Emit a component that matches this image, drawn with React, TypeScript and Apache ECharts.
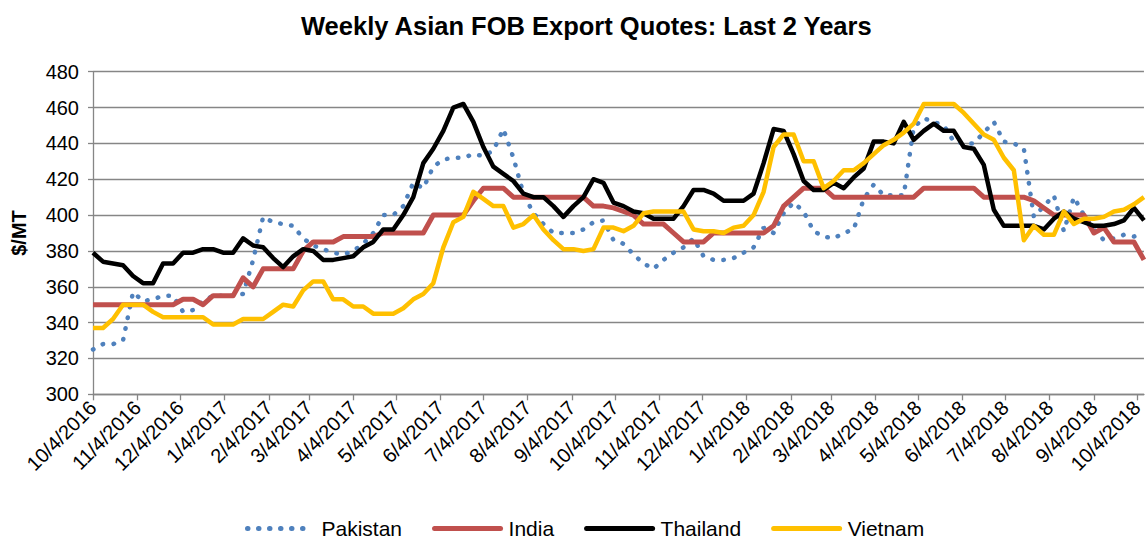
import React, { useEffect, useRef } from "react";
import * as echarts from "echarts";

const startDate = "10/4/2016";
const tickLabels = [
  "10/4/2016", "11/4/2016", "12/4/2016", "1/4/2017", "2/4/2017", "3/4/2017", "4/4/2017",
  "5/4/2017", "6/4/2017", "7/4/2017", "8/4/2017", "9/4/2017", "10/4/2017", "11/4/2017",
  "12/4/2017", "1/4/2018", "2/4/2018", "3/4/2018", "4/4/2018", "5/4/2018", "6/4/2018",
  "7/4/2018", "8/4/2018", "9/4/2018", "10/4/2018",
];
const yTicks = [300, 320, 340, 360, 380, 400, 420, 440, 460, 480];

const pakistan = [
  325, 328, 328, 330, 357, 352, 353, 355, 355, 346, 347, 352, 355, 355, 355, 356,
  375, 399, 396, 395, 394, 387, 383, 381, 379, 378, 380, 384, 390, 400, 400,
  405, 418, 415, 427, 431, 432, 432, 434, 433, 436, 448, 432, 412, 401, 395,
  390, 390, 390, 392, 396, 397, 386, 384, 378, 373, 370, 375, 379, 382, 387,
  377, 375, 375, 376, 379, 382, 393, 390, 401, 407, 402, 391, 388, 387,
  390, 392, 409, 417, 411, 411, 411, 449, 454, 452, 450, 441, 440, 440, 446,
  452, 441, 440, 437, 399, 405, 411, 391, 410, 400, 392, 386, 387, 389, 388, 390,
];
const india = [
  350, 350, 350, 350, 350, 350, 350, 350, 350, 353, 353, 350, 355, 355, 355, 365,
  360, 370, 370, 370, 370, 380, 385, 385, 385, 388, 388, 388, 388, 390, 390,
  390, 390, 390, 400, 400, 400, 400, 408, 415, 415, 415, 410, 410, 410, 410,
  410, 410, 410, 410, 405, 405, 404, 402, 400, 395, 395, 395, 390, 385, 385,
  385, 390, 390, 390, 390, 390, 390, 394, 405, 410, 415, 415, 415, 410,
  410, 410, 410, 410, 410, 410, 410, 410, 415, 415, 415, 415, 415, 415, 410,
  410, 410, 410, 410, 408, 404, 400, 400, 400, 400, 390, 393, 385, 385, 385, 375,
];
const thailand = [
  379, 374, 373, 372, 366, 362, 362, 373, 373, 379, 379, 381, 381, 379, 379, 387,
  383, 382, 376, 371, 377, 381, 380, 375, 375, 376, 377, 382, 385, 392, 392,
  400, 410, 429, 437, 447, 460, 462, 452, 438, 427, 423, 419, 412, 410, 410,
  405, 399, 405, 410, 420, 418, 407, 405, 402, 401, 398, 398, 398, 405, 414,
  414, 412, 408, 408, 408, 412, 429, 448, 447, 434, 419, 414, 414, 418,
  415, 421, 426, 441, 441, 440, 452, 442, 447, 451, 447, 447, 438, 437, 428,
  403, 394, 394, 394, 394, 392, 398, 402, 398, 396, 394, 394, 395, 397, 404, 397,
];
const vietnam = [
  337, 337, 342, 350, 350, 350, 346, 343, 343, 343, 343, 343, 339, 339, 339, 342,
  342, 342, 346, 350, 349, 358, 363, 363, 353, 353, 349, 349, 345, 345, 345,
  348, 353, 356, 362, 382, 396, 399, 413, 409, 405, 405, 393, 395, 400, 392,
  386, 381, 381, 380, 381, 393, 393, 391, 394, 401, 402, 402, 402, 402, 392,
  391, 391, 390, 393, 394, 400, 413, 438, 445, 445, 430, 430, 415, 419,
  425, 425, 429, 434, 439, 442, 446, 451, 462, 462, 462, 462, 457, 451, 445,
  442, 432, 425, 386, 394, 389, 389, 402, 395, 398, 398, 399, 402, 403, 406, 410,
];

const FONT = "'Liberation Sans', Arial, sans-serif";

function toUTC(s: string) {
  const [m, d, y] = s.split("/").map(Number);
  return Date.UTC(y, m - 1, d);
}
const DAY = 86400000;
const t0 = toUTC(startDate);
const dayOf = (s: string) => Math.round((toUTC(s) - t0) / DAY);
const tickDays = tickLabels.map(dayOf);
const labelByDay: Record<number, string> = {};
tickLabels.forEach((l, i) => (labelByDay[tickDays[i]] = l));
const lastDay = (pakistan.length - 1) * 7;
const weekly = (arr: number[]) => arr.map((v, i) => [i * 7, v]);

export default function App() {
  const ref = useRef<HTMLDivElement>(null);
  useEffect(() => {
    if (!ref.current) return;
    const chart = echarts.init(ref.current, undefined, { renderer: "svg" });
    const grey = "#868686";
    chart.setOption({
      animation: false,
      backgroundColor: "#ffffff",
      title: {
        text: "Weekly Asian FOB Export Quotes: Last 2 Years",
        left: 296,
        top: 8,
        textStyle: { fontFamily: FONT, fontSize: 25.5, fontWeight: "bold", color: "#000" },
      },
      legend: {
        left: 240,
        top: 513,
        itemWidth: 66,
        itemHeight: 16,
        itemGap: 30,
        itemStyle: { opacity: 0 },
        lineStyle: { width: 5, cap: "round" },
        textStyle: { fontFamily: FONT, fontSize: 21, color: "#000", padding: [0, 0, 0, 3] },
        data: ["Pakistan", "India", "Thailand", "Vietnam"],
      },
      grid: { left: 93, right: 0, top: 71.7, bottom: 145.7, containLabel: false },
      xAxis: {
        type: "value",
        min: 0,
        max: lastDay,
        splitLine: { show: false },
        axisLine: { lineStyle: { color: grey, width: 1.3 } },
        axisTick: { show: true, length: 6, lineStyle: { color: grey, width: 1.3 }, customValues: tickDays },
        axisLabel: {
          customValues: tickDays,
          rotate: 45,
          margin: 10,
          fontFamily: FONT,
          fontSize: 20,
          color: "#000",
          formatter: (v: number) => labelByDay[v] ?? "",
        },
      },
      yAxis: {
        type: "value",
        min: 300,
        max: 480,
        interval: 20,
        name: "$/MT",
        nameLocation: "middle",
        nameRotate: 90,
        nameGap: 64,
        nameTextStyle: { fontFamily: FONT, fontSize: 20, fontWeight: "bold", color: "#000" },
        axisLine: { show: true, lineStyle: { color: grey, width: 1.3 } },
        axisTick: { show: true, length: 5, lineStyle: { color: grey, width: 1.3 } },
        splitLine: { show: true, lineStyle: { color: grey, width: 1.3 } },
        axisLabel: {
          margin: 14,
          fontFamily: FONT,
          fontSize: 20,
          color: "#000",
          formatter: (v: number) => (yTicks.includes(v) ? String(v) : ""),
        },
      },
      series: [
        {
          name: "Pakistan",
          type: "line",
          data: weekly(pakistan),
          showSymbol: false,
          symbol: "none",
          color: "#4F81BD",
          lineStyle: { color: "#4F81BD", width: 4.5, type: [0.5, 10.5], cap: "round" },
        },
        {
          name: "India",
          type: "line",
          data: weekly(india),
          showSymbol: false,
          symbol: "none",
          color: "#C0504D",
          lineStyle: { color: "#C0504D", width: 5, join: "round" },
        },
        {
          name: "Thailand",
          type: "line",
          data: weekly(thailand),
          showSymbol: false,
          symbol: "none",
          color: "#000000",
          lineStyle: { color: "#000000", width: 4.5, join: "round" },
        },
        {
          name: "Vietnam",
          type: "line",
          data: weekly(vietnam),
          showSymbol: false,
          symbol: "none",
          color: "#FFC000",
          lineStyle: { color: "#FFC000", width: 4.5, join: "round" },
        },
      ],
    });
    return () => chart.dispose();
  }, []);
  return (
    <div
      ref={ref}
      style={{ position: "fixed", left: 0, top: 0, width: 1146, height: 540, background: "#fff" }}
    />
  );
}
